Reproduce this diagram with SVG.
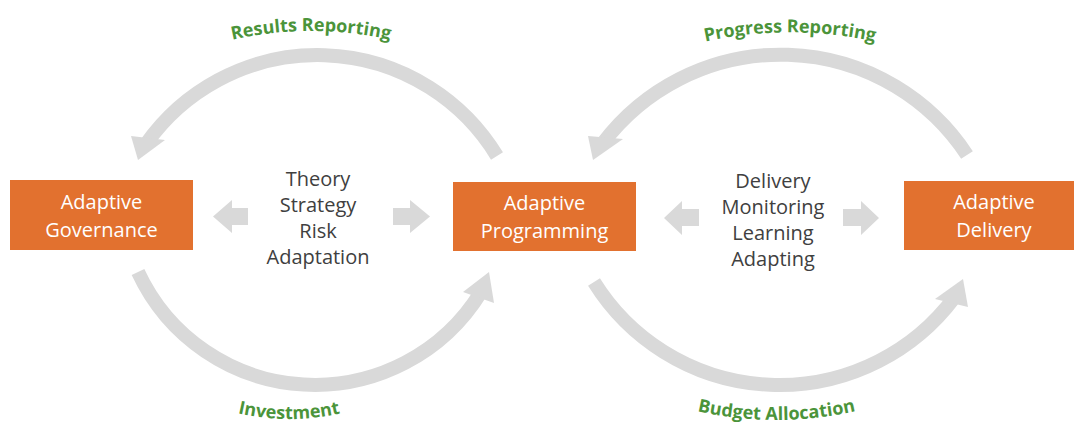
<svg xmlns="http://www.w3.org/2000/svg" width="1074" height="426" viewBox="0 0 1074 426">
  <style>
    .box { fill: #E2712F; }
    .boxtxt { font-family: "Open Sans", "Liberation Sans", sans-serif; font-size: 20px; fill: #FFFFFF; text-anchor: middle; }
    .mid { font-family: "Open Sans", "Liberation Sans", sans-serif; font-size: 20px; fill: #404040; text-anchor: middle; }
    .arc { fill: none; stroke: #D9D9D9; stroke-width: 14; stroke-linecap: butt; }
    .head { fill: #D9D9D9; }
    .lbl { font-family: "Open Sans", "Liberation Sans", sans-serif; font-size: 18px; font-weight: bold; fill: #4B943A; }
  </style>
  <defs>
    <path id="tpResults" d="M150,69 A360,360 0 0 1 472,69"/>
    <path id="tpProgress" d="M590,86 A400,400 0 0 1 990,86"/>
    <path id="tpInvest" d="M139,363.4 A230,230 0 0 0 439,363.4"/>
    <path id="tpBudget" d="M576.5,359.3 A360,360 0 0 0 976.5,359.3"/>
  </defs>
  <rect width="1074" height="426" fill="#FFFFFF"/>

  <g id="connectors">
    <!-- Results Reporting: Programming -> Governance -->
    <path class="arc" d="M497,156 A210,210 0 0 0 146,144"/>
    <polygon class="head" points="131,136 165,140 138,160"/>
    <!-- Investment: Governance -> Programming -->
    <path class="arc" d="M138,272 A195,195 0 0 0 481,292"/>
    <polygon class="head" points="463,292 494,303 489,272"/>
    <!-- Progress Reporting: Delivery -> Programming -->
    <path class="arc" d="M967,155 A223,223 0 0 0 603,143"/>
    <polygon class="head" points="588,136 623,139 593,160"/>
    <!-- Budget Allocation: Programming -> Delivery -->
    <path class="arc" d="M594,282 A218.5,218.5 0 0 0 954,298"/>
    <polygon class="head" points="935,299 968,307 963,279"/>

    <!-- small block arrows -->
    <polygon class="head" points="213,216.5 232,200 232,208 248,208 248,225 232,225 232,233"/>
    <polygon class="head" points="393,208 410,208 410,200 430,216.5 410,233 410,225 393,225"/>
    <polygon class="head" points="664,218 682,201 682,209 699,209 699,226 682,226 682,235"/>
    <polygon class="head" points="843,209 861,209 861,201 879,218 861,235 861,226 843,226"/>

    <!-- connector labels -->
    <text class="lbl"><textPath href="#tpResults" startOffset="50%" text-anchor="middle">Results Reporting</textPath></text>
    <text class="lbl"><textPath href="#tpProgress" startOffset="50%" text-anchor="middle">Progress Reporting</textPath></text>
    <text class="lbl"><textPath href="#tpInvest" startOffset="50%" text-anchor="middle">Investment</textPath></text>
    <text class="lbl"><textPath href="#tpBudget" startOffset="50%" text-anchor="middle">Budget Allocation</textPath></text>
  </g>

  <g id="governance">
    <rect class="box" x="10" y="180" width="183" height="70"/>
    <text class="boxtxt" x="101.5" y="209">Adaptive</text>
    <text class="boxtxt" x="101.5" y="237">Governance</text>
  </g>

  <g id="programming">
    <rect class="box" x="453" y="182" width="183" height="69"/>
    <text class="boxtxt" x="544.5" y="210">Adaptive</text>
    <text class="boxtxt" x="544.5" y="238">Programming</text>
  </g>

  <g id="delivery">
    <rect class="box" x="904" y="181" width="170" height="69"/>
    <text class="boxtxt" x="994" y="209">Adaptive</text>
    <text class="boxtxt" x="994" y="237">Delivery</text>
  </g>

  <g id="governance-programming-topics">
    <text class="mid" x="318" y="186">Theory</text>
    <text class="mid" x="318" y="212">Strategy</text>
    <text class="mid" x="318" y="238">Risk</text>
    <text class="mid" x="318" y="264">Adaptation</text>
  </g>

  <g id="programming-delivery-topics">
    <text class="mid" x="773" y="188">Delivery</text>
    <text class="mid" x="773" y="214">Monitoring</text>
    <text class="mid" x="773" y="240">Learning</text>
    <text class="mid" x="773" y="266">Adapting</text>
  </g>
</svg>
